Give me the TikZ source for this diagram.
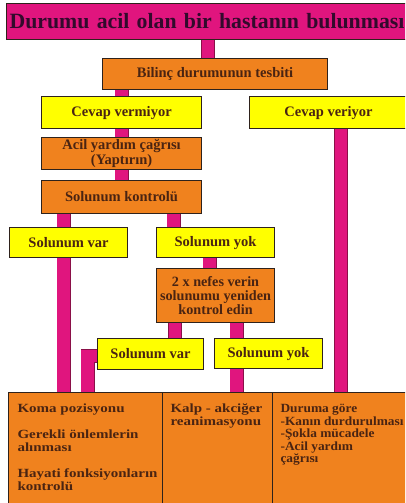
\documentclass[tikz,border=0pt]{standalone}
\usepackage{fontspec}
\setmainfont{Liberation Serif}
\newfontfamily\widefont[FakeStretch=1.2]{Liberation Serif}
\newfontfamily\widefontb[FakeStretch=1.07]{Liberation Serif}
\usetikzlibrary{backgrounds}
\definecolor{pk}{HTML}{E0157E}
\definecolor{pkd}{HTML}{8A1048}
\definecolor{org}{HTML}{F0821E}
\definecolor{ylw}{HTML}{FFFF00}
\definecolor{edge}{HTML}{2E221C}
\definecolor{txt}{HTML}{4A2412}
\definecolor{ttl}{HTML}{320A2C}
\begin{document}
\begin{tikzpicture}[x=1pt,y=-1pt,
  box/.style={draw=edge, line width=1.1pt, inner sep=0pt, anchor=north west,
    font=\fontsize{14.5}{15}\selectfont\bfseries, text=txt, align=center},
  ybox/.style={box, fill=ylw},
  obox/.style={box, fill=org},
  bigbox/.style={obox, align=left, inner xsep=9pt, inner ysep=11.5pt,
    font=\widefont\bfseries\fontsize{12.5}{13}\selectfont},
  bar/.style={draw=pkd, line width=0.7pt, double=pk, double distance=12.6pt}]
\useasboundingbox (0,0) rectangle (405,503);
\clip (0,0) rectangle (405,503);
% nodes
\node[box, fill=pk, minimum width=420, minimum height=36, text=ttl,
  font=\fontsize{21.8}{24}\selectfont\bfseries, align=left, text width=414,
  inner xsep=2pt] (title) at (6,3) {Durumu acil olan bir hastanın bulunması};
\node[obox, minimum width=225, minimum height=31] (bil) at (102,58) {Bilinç durumunun tesbiti};
\node[ybox, minimum width=160, minimum height=32] (cvm) at (41,96) {Cevap vermiyor};
\node[ybox, minimum width=158, minimum height=32] (cvr) at (249,96) {Cevap veriyor};
\node[obox, minimum width=160, minimum height=32] (acil) at (41,137) {Acil yardım çağrısı\\(Yaptırın)};
\node[obox, minimum width=160, minimum height=33] (skon) at (41,180) {Solunum kontrolü};
\node[ybox, minimum width=118, minimum height=30] (var1) at (9,227) {Solunum var};
\node[ybox, minimum width=118, minimum height=30] (yok1) at (156,227) {Solunum yok};
\node[obox, minimum width=118, minimum height=54, font=\fontsize{14.2}{14}\selectfont\bfseries] (nefes) at (156,268) {2 x nefes verin\\solunumu yeniden\\kontrol edin};
\node[ybox, minimum width=106, minimum height=31] (var2) at (97,338) {Solunum var};
\node[ybox, minimum width=108, minimum height=30] (yok2) at (214,338) {Solunum yok};
\node[bigbox] (bl) at (8,392) {\parbox[t][120pt][t]{140pt}{\raggedright
  Koma pozisyonu\par\vspace{13pt}
  Gerekli önlemlerin\\alınması\par\vspace{13pt}
  Hayati fonksiyonların\\kontrolü}};
\node[bigbox, inner xsep=8pt] (bm) at (162,392) {\parbox[t][120pt][t]{103pt}{\raggedright
  Kalp - akciğer\\reanimasyonu}};
\node[bigbox, inner xsep=8pt, font=\widefontb\bfseries\fontsize{12.5}{12.6}\selectfont] (br) at (272,392) {\parbox[t][120pt][t]{150pt}{\raggedright
  Duruma göre\\-Kanın durdurulması\\-Şokla mücadele\\-Acil yardım\\çağrısı}};
% connectors
\begin{scope}[on background layer]
\fill[white] (0,0) rectangle (405,503);
\draw[bar] (208,0 |- title.south) -- (208,0 |- bil.north);
\draw[bar] (121.5,0 |- bil.south) -- (121.5,0 |- cvm.north);
\draw[bar] (121.5,0 |- cvm.south) -- (121.5,0 |- acil.north);
\draw[bar] (121.5,0 |- acil.south) -- (121.5,0 |- skon.north);
\draw[bar] (341,0 |- cvr.south) -- (341,0 |- br.north);
\draw[bar] (63.5,0 |- skon.south) -- (63.5,0 |- var1.north);
\draw[bar] (173.5,0 |- skon.south) -- (173.5,0 |- yok1.north);
\draw[bar] (63.5,0 |- var1.south) -- (63.5,0 |- bl.north);
\draw[bar] (209.5,0 |- yok1.south) -- (209.5,0 |- nefes.north);
\draw[bar] (175,0 |- nefes.south) -- (175,0 |- var2.north);
\draw[bar] (236.5,0 |- nefes.south) -- (236.5,0 |- yok2.north);
\draw[bar] (var2.west |- 0,356) -- (87.5,356) -- (87.5,0 |- bl.north);
\draw[bar] (236.5,0 |- yok2.south) -- (236.5,0 |- bm.north);
\end{scope}
\end{tikzpicture}
\end{document}
